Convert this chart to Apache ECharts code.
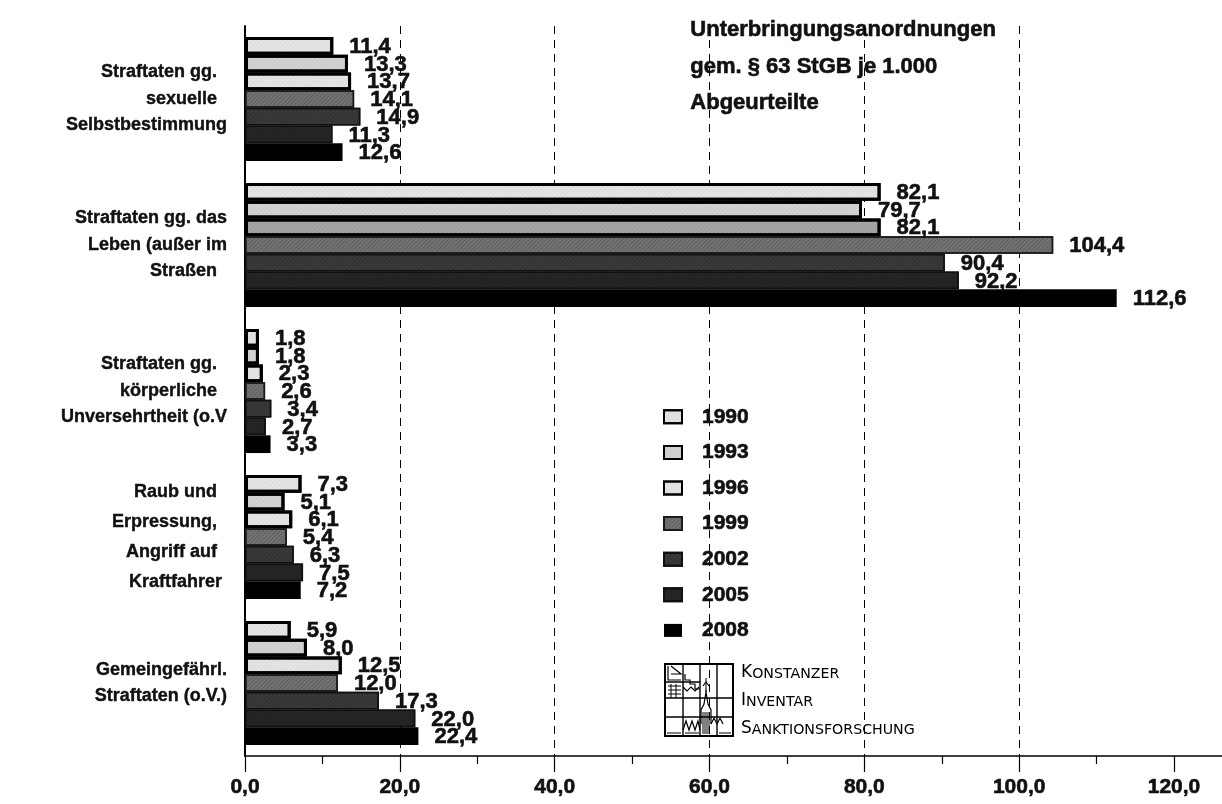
<!DOCTYPE html>
<html>
<head>
<meta charset="utf-8">
<style>
  html, body { margin: 0; padding: 0; background: #fff; }
  #chart { width: 1222px; height: 804px; }
</style>
<script src="https://cdn.jsdelivr.net/npm/echarts@6/dist/echarts.min.js"></script>
</head>
<body>
<div id="chart"></div>
<script>
// Offence groups, top to bottom
const categories = [
  'Straftaten gg.  \nsexuelle  \nSelbstbestimmung',
  'Straftaten gg. das\nLeben (außer im\nStraßen  ',
  'Straftaten gg.  \nkörperliche  \nUnversehrtheit (o.V',
  'Raub und  \nErpressung,  \nAngriff auf  \nKraftfahrer ',
  'Gemeingefährl.\nStraftaten (o.V.)'
];

// Survey years (one bar per year in every group)
const years = ['1990', '1993', '1996', '1999', '2002', '2005', '2008'];

// Commitments under § 63 StGB per 1,000 convicted persons
const v1990 = [11.4, 82.1, 1.8, 7.3, 5.9];
const v1993 = [13.3, 79.7, 1.8, 5.1, 8.0];
const v1996 = [13.7, 82.1, 2.3, 6.1, 12.5];
const v1999 = [14.1, 104.4, 2.6, 5.4, 12.0];
const v2002 = [14.9, 90.4, 3.4, 6.3, 17.3];
const v2005 = [11.3, 92.2, 2.7, 7.5, 22.0];
const v2008 = [12.6, 112.6, 3.3, 7.2, 22.4];

// Axis tick values
const majorTicks = [0, 20, 40, 60, 80, 100, 120];
const minorTicks = [10, 30, 50, 70, 90, 110];

const seriesValues = [v1990, v1993, v1996, v1999, v2002, v2005, v2008];

const FONT = 'Arial, "Liberation Sans", sans-serif';
const INK = '#111';
const fmt = v => v.toFixed(1).replace('.', ',');

// Heavy bold text, as in the printed figure
const heavy = (size, extra) => Object.assign({
  fontFamily: FONT,
  fontWeight: 'bold',
  fontSize: size,
  color: INK,
  textBorderColor: INK,
  textBorderWidth: 0.6
}, extra || {});

// Grey fills with a fine diagonal hatch, outlined like the print version
const looks = [
  { color: '#e6e6e6', borderColor: '#000', borderWidth: 3 },
  { color: '#d4d4d4', borderColor: '#000', borderWidth: 3 },
  { color: '#e6e6e6', borderColor: '#000', borderWidth: 3 },
  { color: '#737373', borderColor: '#1a1a1a', borderWidth: 1.5 },
  { color: '#3a3a3a', borderColor: '#111', borderWidth: 1.5 },
  { color: '#262626', borderColor: '#111', borderWidth: 1.5 },
  { color: '#000000', borderColor: '#000', borderWidth: 0 }
];

function hatch(alpha) {
  return {
    symbol: 'rect',
    symbolSize: 1,
    dashArrayX: [1, 0],
    dashArrayY: [1, 2],
    rotation: -Math.PI / 4,
    color: 'rgba(0,0,0,' + alpha + ')'
  };
}

const series = years.map((y, i) => ({
  name: y,
  type: 'bar',
  barGap: '0%',
  barCategoryGap: '15%',
  data: seriesValues[i].map((v, k) => {
    // the 1996 bar of the homicide group is printed in a darker grey
    if (i === 2 && k === 1) {
      return { value: v, itemStyle: { color: '#a6a6a6' } };
    }
    return v;
  }),
  itemStyle: Object.assign({}, looks[i], i < 6 ? { decal: hatch(i < 3 ? 0.06 : 0.18) } : {}),
  label: heavy(22, {
    show: true,
    position: 'right',
    distance: 16,
    offset: [0, 1],
    formatter: p => fmt(p.value)
  }),
  emphasis: { disabled: true }
}));

const chart = echarts.init(document.getElementById('chart'), null, { renderer: 'canvas' });

// Drawn emblem of the Konstanz inventory (grid of small pictograms)
function emblem(x0, y0) {
  const w = 68, h = 72;
  const L = (x1, y1, x2, y2, lw) => ({
    type: 'line',
    shape: { x1: x0 + x1, y1: y0 + y1, x2: x0 + x2, y2: y0 + y2 },
    style: { stroke: '#000', lineWidth: lw || 1.4 }
  });
  const P = (pts, lw) => ({
    type: 'polyline',
    shape: { points: pts.map(p => [x0 + p[0], y0 + p[1]]) },
    style: { stroke: '#000', lineWidth: lw || 1.2, fill: null }
  });
  const els = [
    { type: 'rect', shape: { x: x0, y: y0, width: w, height: h }, style: { fill: null, stroke: '#000', lineWidth: 2 } },
    L(18, 0, 18, h), L(35, 0, 35, h), L(52, 0, 52, h),
    L(0, 34, w, 34), L(0, 53, w, 53), L(0, 18, 35, 18),
    // flag / steps, upper left
    P([[3, 2], [3, 16], [16, 16]]), P([[6, 2], [16, 10], [6, 10]]),
    P([[20, 10], [20, 16], [25, 16], [25, 20], [30, 20], [30, 25], [35, 25]]),
    P([[18, 23], [22, 27], [26, 23], [30, 27], [34, 23]]),
    L(3, 22, 16, 22, 1), L(3, 26, 16, 26, 1), L(3, 30, 16, 30, 1),
    L(6, 20, 6, 34, 1), L(11, 20, 11, 34, 1),
    // church tower
    P([[36, 60], [36, 46], [39, 40], [41, 28], [43, 40], [46, 46], [46, 60]]),
    P([[38, 22], [41, 18], [44, 22]]), L(41, 14, 41, 28, 1),
    L(38, 48, 38, 70, 1), L(40, 48, 40, 70, 1), L(42, 48, 42, 70, 1), L(44, 48, 44, 70, 1),
    P([[46, 60], [49, 54], [52, 60], [55, 54], [58, 60]]),
    // zigzag roofs, lower left
    P([[18, 66], [21, 57], [24, 66], [27, 57], [30, 66], [33, 57], [35, 66]]),
    L(2, 69, 16, 69, 1), L(20, 69, 34, 69, 1), L(54, 69, 66, 69, 1)
  ];
  return { type: 'group', children: els, silent: true };
}

const smallCaps = (first, rest, y) => ({
  type: 'text',
  left: 741,
  top: y,
  style: {
    text: '{a|' + first + '}{b|' + rest + '}',
    rich: {
      a: { fontFamily: '"DejaVu Sans", sans-serif', fontSize: 17, fill: '#000', verticalAlign: 'bottom' },
      b: { fontFamily: '"DejaVu Sans", sans-serif', fontSize: 14.2, fill: '#000', verticalAlign: 'bottom' }
    }
  },
  silent: true
});

// Category labels: the four-line label is set a little more loosely
const catLabel = value => {
  const lines = value.split('\n');
  const style = lines.length > 3 ? 'w' : 'n';
  return lines.map(s => '{' + style + '|' + s + '}').join('\n');
};

const option = {
  animation: false,
  backgroundColor: '#ffffff',
  grid: { left: 245, right: 0, top: 26, bottom: 48, containLabel: false },
  legend: {
    orient: 'vertical',
    left: 663,
    top: 406,
    padding: 0,
    itemWidth: 18,
    itemHeight: 13,
    itemGap: 14,
    icon: 'rect',
    selectedMode: false,
    data: years,
    textStyle: heavy(21, { lineHeight: 21, padding: [0, 0, 0, 15] })
  },
  xAxis: [{
    type: 'value',
    min: 0,
    max: 126.2,
    interval: 20,
    axisLine: { show: true, lineStyle: { color: '#000', width: 1.5 } },
    axisTick: { show: true, length: 16, customValues: majorTicks, lineStyle: { color: '#000', width: 1.2 } },
    axisLabel: heavy(21, {
      customValues: majorTicks,
      formatter: v => fmt(v),
      margin: 21
    }),
    splitLine: {
      show: true,
      showMinLine: false,
      showMaxLine: false,
      lineStyle: { color: '#000', width: 1, type: [8, 6] }
    }
  }, {
    type: 'value',
    min: 0,
    max: 126.2,
    position: 'bottom',
    axisLine: { show: false },
    axisTick: { show: true, length: 8, customValues: minorTicks, lineStyle: { color: '#000', width: 1.2 } },
    axisLabel: { show: false },
    splitLine: { show: false }
  }],
  yAxis: {
    type: 'category',
    inverse: true,
    data: categories,
    axisLine: { show: true, lineStyle: { color: '#000', width: 2 } },
    axisTick: { show: false },
    axisLabel: heavy(18, {
      margin: 18,
      align: 'right',
      textBorderWidth: 0.4,
      formatter: catLabel,
      rich: {
        n: heavy(18, { lineHeight: 26.5, textBorderWidth: 0.4, align: 'right' }),
        w: heavy(18, { lineHeight: 30, textBorderWidth: 0.4, align: 'right' })
      }
    })
  },
  series: series,
  graphic: [
    {
      type: 'text',
      left: 690,
      top: 12,
      style: {
        text: 'Unterbringungsanordnungen\ngem. § 63 StGB je 1.000\nAbgeurteilte',
        fontFamily: FONT,
        fontWeight: 'bold',
        fontSize: 22,
        lineHeight: 36.5,
        fill: INK,
        stroke: INK,
        lineWidth: 0.6
      },
      silent: true
    },
    emblem(665, 664),
    smallCaps('K', 'ONSTANZER', 664),
    smallCaps('I', 'NVENTAR', 692),
    smallCaps('S', 'ANKTIONSFORSCHUNG', 720)
  ]
};

chart.setOption(option);
</script>
</body>
</html>
